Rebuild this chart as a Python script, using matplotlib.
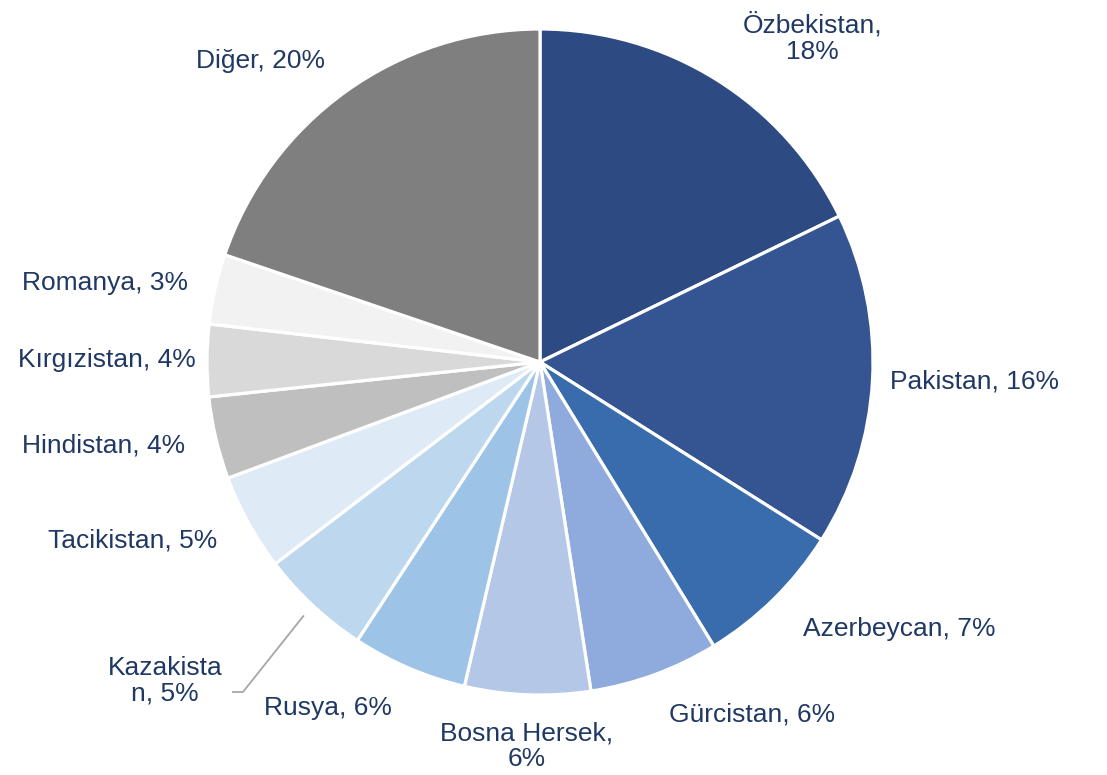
import numpy as np
import matplotlib
matplotlib.use("Agg")
import matplotlib.pyplot as plt

plt.rcParams['font.family'] = ['Liberation Sans', 'DejaVu Sans']

countries = ["Özbekistan", "Pakistan", "Azerbeycan", "Gürcistan", "Bosna Hersek",
             "Rusya", "Kazakistan", "Tacikistan", "Hindistan", "Kırgızistan",
             "Romanya", "Diğer"]
shares = [17.8, 16.2, 7.3, 6.3, 6.1, 5.6, 5.4, 4.7, 4.0, 3.5, 3.4, 19.8]
label_texts = ["Özbekistan,\n18%", "Pakistan, 16%", "Azerbeycan, 7%", "Gürcistan, 6%",
               "Bosna Hersek,\n6%", "Rusya, 6%", "Kazakista\nn, 5%", "Tacikistan, 5%",
               "Hindistan, 4%", "Kırgızistan, 4%", "Romanya, 3%", "Diğer, 20%"]
colors = ["#2E4A82", "#345592", "#386CAC", "#8FAADC", "#B4C7E7", "#9DC3E6",
          "#BDD7EE", "#DEEBF7", "#BFBFBF", "#D9D9D9", "#F2F2F2", "#7F7F7F"]

TXT = "#203864"
FS = 19

# label layout: distance factor and horizontal alignment per slice
lab_r = [1.147, 1.054, 1.126, 1.126, 1.08, 1.13, None, 1.108, 1.096, 1.033, 1.084, 1.11]
lab_ha = ["left", "left", "left", "left", "center", "right", None, "right",
          "right", "right", "right", "right"]

fig = plt.figure(figsize=(11.07, 7.75), dpi=100)
ax = fig.add_axes([0, 0, 1, 1])

wedges, _ = ax.pie(shares, colors=colors, startangle=90, counterclock=False,
                   radius=1.0, center=(0, 0),
                   wedgeprops=dict(edgecolor='white', linewidth=2.3))

# pie() resets the limits, so set them afterwards
ax.set_xlim(-540 / 333, (1107 - 540) / 333)
ax.set_ylim(-413 / 333, 362 / 333)
ax.set_aspect('equal')
ax.axis('off')

for i, w in enumerate(wedges):
    mid = np.deg2rad((w.theta1 + w.theta2) / 2)
    if lab_r[i] is None:
        # Kazakistan: label pulled out with a leader line
        p0 = (1.04 * np.cos(mid), 1.04 * np.sin(mid))
        ax.plot([p0[0], -0.892, -0.925], [p0[1], -0.991, -0.991],
                color='#A6A6A6', lw=1.3, solid_capstyle='butt')
        ax.text(-1.126, -0.958, label_texts[i], ha='center', va='center',
                multialignment='center', fontsize=FS, color=TXT, linespacing=1.1)
        continue
    r = lab_r[i]
    x, y = r * np.cos(mid), r * np.sin(mid)
    va = 'center'
    if lab_ha[i] == 'center':
        va = 'top'
    ax.text(x, y, label_texts[i], ha=lab_ha[i], va=va, multialignment='center',
            fontsize=FS, color=TXT, linespacing=1.1)

fig.savefig("out.png", dpi=100)
